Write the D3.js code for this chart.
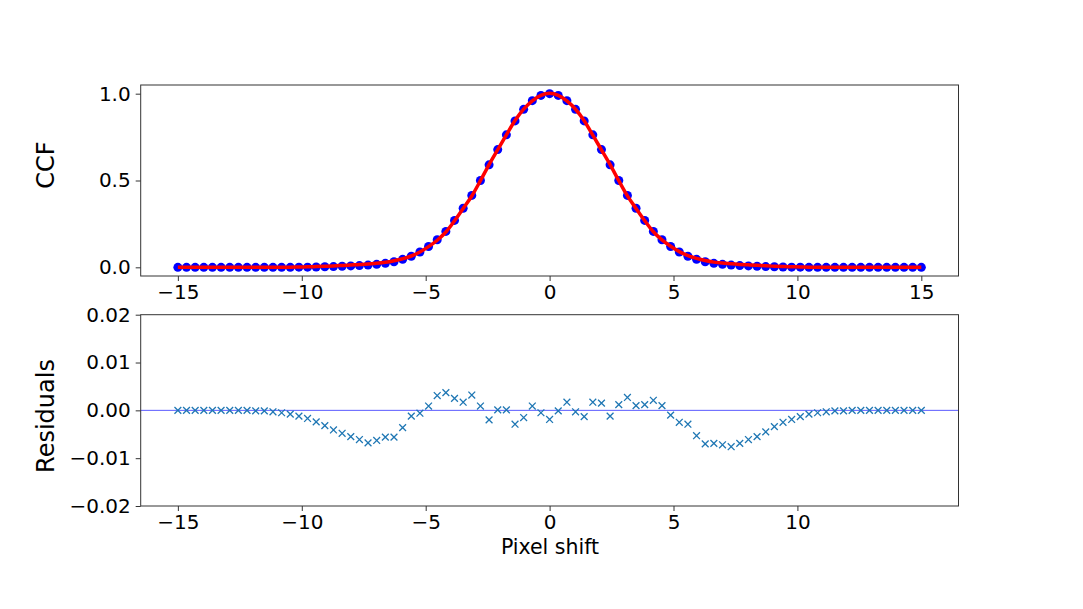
<!DOCTYPE html>
<html>
<head>
<meta charset="utf-8">
<script src="https://cdn.jsdelivr.net/npm/d3@7"></script>
<style>
  html, body { margin: 0; padding: 0; background: #fff; }
  svg { display: block; font-family: "DejaVu Sans", sans-serif; }
</style>
</head>
<body>
<svg id="chart" width="1083" height="609"></svg>
<script>
// ---- data ----
const shifts = [
  -15.000, -14.651, -14.302, -13.953, -13.605, -13.256, -12.907, -12.558, -12.209, -11.860,
  -11.512, -11.163, -10.814, -10.465, -10.116, -9.767, -9.419, -9.070, -8.721, -8.372,
  -8.023, -7.674, -7.326, -6.977, -6.628, -6.279, -5.930, -5.581, -5.233, -4.884,
  -4.535, -4.186, -3.837, -3.488, -3.140, -2.791, -2.442, -2.093, -1.744, -1.395,
  -1.047, -0.698, -0.349, 0.000, 0.349, 0.698, 1.047, 1.395, 1.744, 2.093,
  2.442, 2.791, 3.140, 3.488, 3.837, 4.186, 4.535, 4.884, 5.233, 5.581,
  5.930, 6.279, 6.628, 6.977, 7.326, 7.674, 8.023, 8.372, 8.721, 9.070,
  9.419, 9.767, 10.116, 10.465, 10.814, 11.163, 11.512, 11.860, 12.209, 12.558,
  12.907, 13.256, 13.605, 13.953, 14.302, 14.651, 15.000
];
const ccf = [
  0, 0, 0, 0, 0, 0, 0, 0, 0, 0,
  0, 0, 0, 0, 0.001, 0.001, 0.002, 0.003, 0.004, 0.006,
  0.008, 0.010, 0.013, 0.017, 0.023, 0.032, 0.046, 0.064, 0.088, 0.120,
  0.159, 0.207, 0.270, 0.340, 0.414, 0.500, 0.590, 0.678, 0.763, 0.843,
  0.910, 0.960, 0.990, 1.000, 0.990, 0.960, 0.910, 0.843, 0.763, 0.678,
  0.590, 0.500, 0.414, 0.340, 0.270, 0.207, 0.159, 0.120, 0.088, 0.064,
  0.046, 0.032, 0.023, 0.017, 0.013, 0.010, 0.008, 0.006, 0.004, 0.003,
  0.002, 0.001, 0.001, 0, 0, 0, 0, 0, 0, 0,
  0, 0, 0, 0, 0, 0, 0
];
const residuals = [
  0, 0, 0, 0, 0, 0, 0, 0, 0, -0.0001,
  -0.0001, -0.0003, -0.0005, -0.0008, -0.0012, -0.0017, -0.0024, -0.0032, -0.0041, -0.0048,
  -0.0055, -0.0061, -0.0068, -0.0063, -0.0056, -0.0056, -0.0036, -0.0012, -0.0006, 0.0009,
  0.0031, 0.0037, 0.0025, 0.0017, 0.0032, 0.0009, -0.0020, 0.0001, 0.0001, -0.0029,
  -0.0015, 0.0009, -0.0005, -0.0019, -0.0001, 0.0017, -0.0003, -0.0013, 0.0017, 0.0015,
  -0.0012, 0.0012, 0.0027, 0.0010, 0.0012, 0.0021, 0.0010, -0.0010, -0.0025, -0.0029,
  -0.0053, -0.0070, -0.0069, -0.0072, -0.0076, -0.0069, -0.0061, -0.0055, -0.0045, -0.0034,
  -0.0025, -0.0019, -0.0013, -0.0008, -0.0005, -0.0003, -0.0001, -0.0001, 0, 0,
  0, 0, 0, 0, 0, 0, 0
];
const xTicksTop = [-15, -10, -5, 0, 5, 10, 15];
const xTicksBottom = [-15, -10, -5, 0, 5, 10];
const yTicksTop = [0, 0.5, 1.0];
const yTicksBottom = [-0.02, -0.01, 0, 0.01, 0.02];
const xDomain = [-16.5, 16.5];
const yDomainTop = [-0.05, 1.05];
const yDomainBottom = [-0.02, 0.02];

// model (fit) = data - residual
const model = ccf.map((v, i) => v - residuals[i]);

// ---- layout ----
const svg = d3.select("#chart");
const left = 140.7, right = 958.5;
const top1 = 85, bot1 = 276;
const top2 = 314.7, bot2 = 506;

const x = d3.scaleLinear().domain(xDomain).range([left, right]);
const y1 = d3.scaleLinear().domain(yDomainTop).range([bot1, top1]);
const y2 = d3.scaleLinear().domain(yDomainBottom).range([bot2, top2]);

const tickFont = 20;
const axisColor = "#333";

function styleAxis(g) {
  g.selectAll("path.domain").remove();
  g.selectAll(".tick line").attr("stroke", axisColor).attr("stroke-width", 1);
  g.selectAll(".tick text").attr("fill", "#000").attr("font-size", tickFont)
    .attr("font-family", "DejaVu Sans, sans-serif");
}

// ---- top panel ----
const g1 = svg.append("g");
g1.append("g").attr("transform", `translate(0,${bot1})`)
  .call(d3.axisBottom(x).tickValues(xTicksTop).tickFormat(d3.format("d")).tickSize(5).tickPadding(4))
  .call(styleAxis);
g1.append("g").attr("transform", `translate(${left},0)`)
  .call(d3.axisLeft(y1).tickValues(yTicksTop).tickFormat(d3.format(".1f")).tickSize(5).tickPadding(5))
  .call(styleAxis);

g1.append("g").selectAll("circle").data(shifts).join("circle")
  .attr("cx", d => x(d)).attr("cy", (d, i) => y1(ccf[i])).attr("r", 4.5)
  .attr("fill", "#0000ff");

g1.append("path")
  .datum(shifts)
  .attr("fill", "none").attr("stroke", "#ff0000").attr("stroke-width", 3.5)
  .attr("stroke-linejoin", "round").attr("stroke-linecap", "butt")
  .attr("d", d3.line().x(d => x(d)).y((d, i) => y1(model[i])).curve(d3.curveMonotoneX));

g1.append("rect").attr("x", left).attr("y", top1).attr("width", right - left).attr("height", bot1 - top1)
  .attr("fill", "none").attr("stroke", axisColor).attr("stroke-width", 1);

g1.append("text").attr("transform", `translate(54,165) rotate(-90)`)
  .attr("text-anchor", "middle").attr("font-size", 24).text("CCF");

// ---- bottom panel ----
const g2 = svg.append("g");
g2.append("g").attr("transform", `translate(0,${bot2})`)
  .call(d3.axisBottom(x).tickValues(xTicksBottom).tickFormat(d3.format("d")).tickSize(5).tickPadding(4))
  .call(styleAxis);
g2.append("g").attr("transform", `translate(${left},0)`)
  .call(d3.axisLeft(y2).tickValues(yTicksBottom).tickFormat(d3.format(".2f")).tickSize(5).tickPadding(5))
  .call(styleAxis);

g2.append("line").attr("x1", left).attr("x2", right).attr("y1", y2(0)).attr("y2", y2(0))
  .attr("stroke", "#5a5aff").attr("stroke-width", 1);

const s = 3.4;
g2.append("g").selectAll("path").data(shifts).join("path")
  .attr("transform", (d, i) => `translate(${x(d)},${y2(residuals[i])})`)
  .attr("d", `M${-s},${-s}L${s},${s}M${-s},${s}L${s},${-s}`)
  .attr("stroke", "#1f77b4").attr("stroke-width", 1.3).attr("fill", "none");

g2.append("rect").attr("x", left).attr("y", top2).attr("width", right - left).attr("height", bot2 - top2)
  .attr("fill", "none").attr("stroke", axisColor).attr("stroke-width", 1);

g2.append("text").attr("transform", `translate(54,416) rotate(-90)`)
  .attr("text-anchor", "middle").attr("font-size", 24).text("Residuals");

svg.append("text").attr("x", 550).attr("y", 554).attr("text-anchor", "middle")
  .attr("font-size", 20.5).text("Pixel shift");
</script>
</body>
</html>
